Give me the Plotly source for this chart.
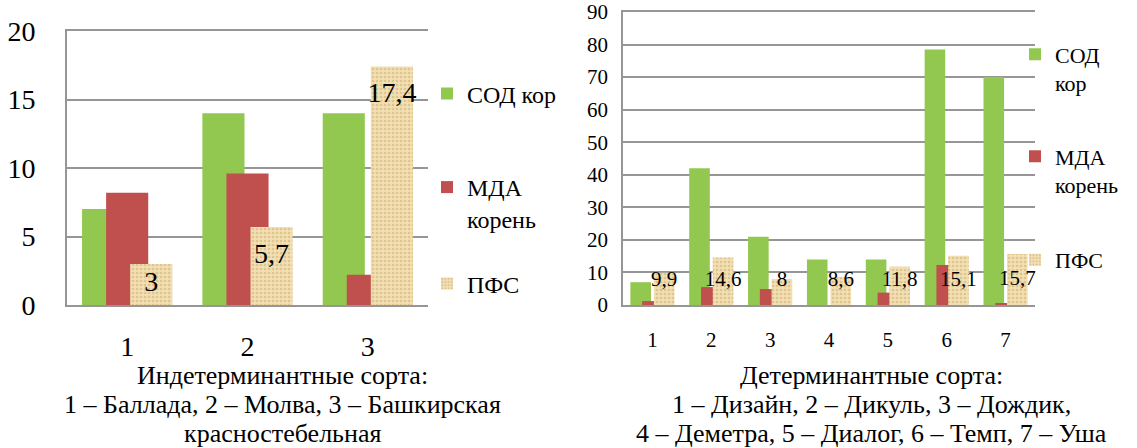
import numpy as np
import plotly.graph_objects as go

# ---- data -------------------------------------------------------------
# Indeterminate varieties (left panel)
ind_cats = ["1", "2", "3"]
ind_sod = [7, 14, 14]
ind_mda = [8.2, 9.6, 2.2]
ind_pfs = [3, 5.7, 17.4]
ind_pfs_labels = ["3", "5,7", "17,4"]

# Determinate varieties (right panel)
det_cats = ["1", "2", "3", "4", "5", "6", "7"]
det_sod = [7, 42, 21, 14, 14, 78.5, 70]
det_mda = [1.2, 5.5, 4.9, 0, 3.8, 12.3, 0.5]
det_pfs = [9.9, 14.6, 8, 8.6, 11.8, 15.1, 15.7]
det_pfs_labels = ["9,9", "14,6", "8", "8,6", "11,8", "15,1", "15,7"]

left_names = ["СОД кор", "МДА<br>корень", "ПФС"]
right_names = ["СОД<br>кор", "МДА<br>корень", "ПФС"]

left_caption = ["Индетерминантные сорта:",
                "1 – Баллада, 2 – Молва, 3 – Башкирская",
                "красностебельная"]
right_caption = ["Детерминантные сорта:",
                 "1 – Дизайн, 2 – Дикуль, 3 – Дождик,",
                 "4 – Деметра, 5 – Диалог, 6 – Темп, 7 – Уша"]

# ---- styling ----------------------------------------------------------
W, H = 1137, 448
FONT = "Liberation Serif"
GREEN = "#92C850"
RED = "#C0504D"
PAPYRUS = dict(color="#F0DBA9",
               pattern=dict(shape=".", fgcolor="#DEC48D", bgcolor="#F2DFB2",
                            size=4, solidity=0.35, fillmode="replace"))
GRID = "#969696"

BAR_W = 0.35
OFFSETS = [-0.375, -0.175, 0.025]


def px_x(p):
    return p / W


def px_y(p):
    return 1 - p / H


fig = go.Figure()


def add_panel(xa, ya, cats, sod, mda, pfs, pfs_text, names, legends,
              label_y, label_size):
    idx = np.arange(len(cats))
    styles = [dict(color=GREEN), dict(color=RED), PAPYRUS]
    for vals, name, off, st, lg in zip([sod, mda, pfs], names, OFFSETS,
                                       styles, legends):
        fig.add_trace(go.Bar(
            x=idx, y=vals, name=name, width=BAR_W, offset=off,
            marker=dict(line=dict(width=0), **st),
            xaxis=xa, yaxis=ya, legend=lg, hoverinfo="skip"))
    fig.add_trace(go.Scatter(
        x=idx + OFFSETS[2] + BAR_W / 2, y=label_y, text=pfs_text,
        mode="text", textposition="middle center",
        textfont=dict(family=FONT, size=label_size, color="black"),
        xaxis=xa, yaxis=ya, showlegend=False, hoverinfo="skip",
        cliponaxis=False))


ind_arr = np.array(ind_pfs)
add_panel("x", "y", ind_cats, ind_sod, ind_mda, ind_pfs, ind_pfs_labels,
          left_names, ["legend", "legend2", "legend3"],
          np.maximum(ind_arr - 2.1, ind_arr / 2), 28)

det_arr = np.array(det_pfs)
add_panel("x2", "y2", det_cats, det_sod, det_mda, det_pfs, det_pfs_labels,
          right_names, ["legend4", "legend5", "legend6"],
          np.maximum(det_arr / 2, 7.3), 21)

# ---- axes -------------------------------------------------------------
# the category axis line is mirrored so the frame closes at the top value
common_x = dict(showgrid=False, zeroline=False, showline=True, mirror=True,
                linecolor=GRID, ticks="", fixedrange=True, automargin=False)
common_y = dict(showgrid=True, gridcolor=GRID, zeroline=False,
                showline=True, linecolor=GRID, ticks="", fixedrange=True,
                automargin=False, ticklabeloverflow="allow")

fig.update_layout(
    xaxis=dict(domain=[px_x(67), px_x(428)], range=[-0.5, 2.5],
               tickvals=list(range(len(ind_cats))), ticktext=ind_cats,
               tickfont=dict(family=FONT, size=28, color="black"),
               ticklabelstandoff=15, anchor="y", linewidth=2, **common_x),
    yaxis=dict(domain=[px_y(305), px_y(31)], range=[0, 20],
               tickvals=[0, 5, 10, 15, 20],
               gridwidth=2, linewidth=2,
               tickfont=dict(family=FONT, size=28, color="black"),
               ticklabelstandoff=24, anchor="x", **common_y),
    xaxis2=dict(domain=[px_x(623), px_x(1035)], range=[-0.5, 6.5],
                tickvals=list(range(len(det_cats))), ticktext=det_cats,
                tickfont=dict(family=FONT, size=21, color="black"),
                ticklabelstandoff=15, anchor="y2", linewidth=1.6,
                **common_x),
    yaxis2=dict(domain=[px_y(305), px_y(12)], range=[0, 90],
                tickvals=list(range(0, 91, 10)),
                gridwidth=1.6, linewidth=1.6,
                tickfont=dict(family=FONT, size=21, color="black"),
                ticklabelstandoff=9, anchor="x2", **common_y),
)

# ---- legends: one per series so each entry sits on its own row ---------
def legend_at(x_px, y_px, size):
    return dict(x=px_x(x_px), y=px_y(y_px), xanchor="left", yanchor="middle",
                valign="top", bgcolor="rgba(0,0,0,0)", borderwidth=0,
                font=dict(family=FONT, size=size, color="black"),
                itemclick=False, itemdoubleclick=False)


fig.update_layout(
    legend=legend_at(427, 94, 24),
    legend2=legend_at(427, 203, 24),
    legend3=legend_at(427, 284, 24),
    legend4=legend_at(1015, 69, 22),
    legend5=legend_at(1015, 171, 22),
    legend6=legend_at(1015, 260, 22),
)

# ---- captions under each panel -----------------------------------------
annotations = []
for lines, cx in [(left_caption, 282), (right_caption, 871)]:
    for line, cy in zip(lines, [375.5, 404.5, 433.5]):
        annotations.append(dict(
            text=line, x=px_x(cx), y=px_y(cy), xref="paper", yref="paper",
            xanchor="center", yanchor="middle", showarrow=False,
            borderpad=0,
            font=dict(family=FONT, size=26, color="black")))

fig.update_layout(
    width=W, height=H, margin=dict(l=0, r=0, t=0, b=0, autoexpand=False),
    paper_bgcolor="white", plot_bgcolor="white",
    barmode="overlay", annotations=annotations,
    font=dict(family=FONT, color="black"),
)

fig.write_html("out.html", config={"displayModeBar": False})
